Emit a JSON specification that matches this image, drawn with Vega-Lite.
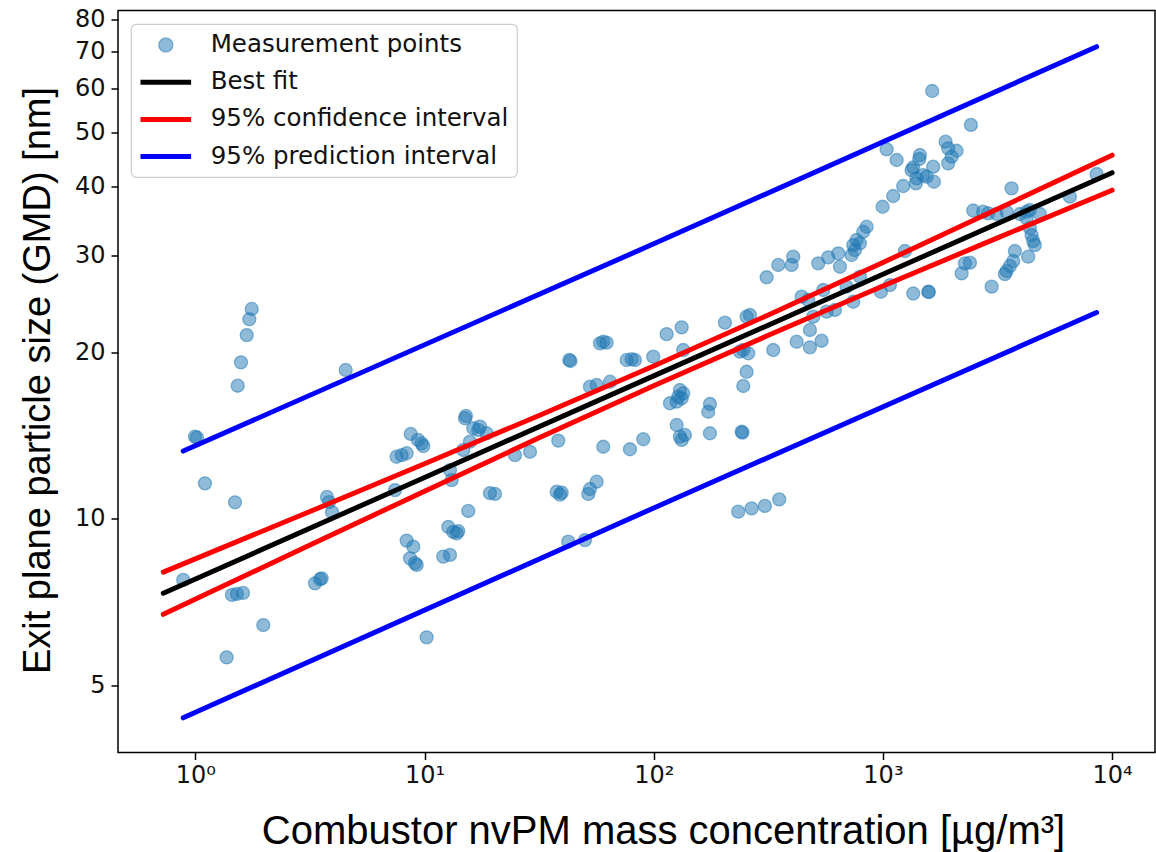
{
  "$schema": "https://vega.github.io/schema/vega-lite/v6.json",
  "autosize": "none",
  "width": 1037,
  "height": 742,
  "padding": {"left": 118, "top": 10.5, "right": 1, "bottom": 99.5},
  "background": "white",
  "config": {
    "view": {"stroke": "black", "strokeWidth": 1.5},
    "axis": {
      "grid": false,
      "domain": false,
      "tickColor": "black",
      "tickWidth": 1.5,
      "tickSize": 7,
      "labelFont": "DejaVu Sans",
      "labelFontSize": 24,
      "labelColor": "#111111",
      "titleFont": "Liberation Sans",
      "titleFontSize": 38,
      "titleFontWeight": "normal",
      "titleColor": "black"
    },
    "legend": {
      "title": null
    }
  },
  "datasets": {
    "points": [
      {"x":0.885,"y":7.76},{"x":0.996,"y":14.09},{"x":1.016,"y":14.04},{"x":1.101,"y":11.6},{"x":1.444,"y":7.29},{"x":1.518,"y":7.32},{"x":1.613,"y":7.35},{"x":1.369,"y":5.62},{"x":1.489,"y":10.72},{"x":1.53,"y":17.42},{"x":1.581,"y":19.2},{"x":1.675,"y":21.51},{"x":1.719,"y":22.97},{"x":1.761,"y":23.98},{"x":1.978,"y":6.43},
      {"x":3.325,"y":7.65},{"x":3.497,"y":7.78},{"x":3.556,"y":7.81},{"x":3.751,"y":10.96},{"x":3.827,"y":10.73},{"x":3.945,"y":10.29},{"x":4.527,"y":18.6},
      {"x":7.43,"y":11.28},{"x":7.55,"y":12.96},{"x":7.95,"y":13.05},{"x":8.35,"y":13.15},{"x":8.7,"y":14.25},{"x":9.36,"y":13.9},{"x":9.71,"y":13.7},{"x":9.87,"y":13.55},
      {"x":8.35,"y":9.14},{"x":8.93,"y":8.91},{"x":8.64,"y":8.49},{"x":9.08,"y":8.32},{"x":9.24,"y":8.26},{"x":10.21,"y":6.11},
      {"x":12.06,"y":8.55},{"x":12.91,"y":8.61},{"x":12.69,"y":9.68},{"x":13.34,"y":9.48},{"x":13.81,"y":9.42},{"x":14.03,"y":9.51},{"x":15.51,"y":10.34},
      {"x":15.01,"y":15.21},{"x":15.16,"y":15.36},{"x":16.31,"y":14.59},{"x":17.15,"y":14.49},{"x":15.78,"y":13.8},{"x":14.75,"y":13.33},{"x":12.91,"y":12.26},{"x":13.13,"y":11.76},
      {"x":19.29,"y":11.14},{"x":20.28,"y":11.1},{"x":17.45,"y":14.69},{"x":18.66,"y":14.29},
      {"x":24.8,"y":13.05},{"x":28.84,"y":13.23},{"x":38.31,"y":13.86},{"x":37.71,"y":11.2},{"x":39.65,"y":11.16},{"x":38.98,"y":11.07},{"x":51.8,"y":11.1},{"x":52.69,"y":11.33},{"x":56.34,"y":11.68},
      {"x":42.36,"y":9.1},{"x":50.11,"y":9.16},{"x":42.79,"y":19.39},{"x":43.31,"y":19.31},{"x":52.69,"y":17.35},{"x":56.34,"y":17.47},{"x":64.43,"y":17.71},
      {"x":60.22,"y":20.92},{"x":58.26,"y":20.78},{"x":62.3,"y":20.84},{"x":60.22,"y":13.51},{"x":76.18,"y":19.39},{"x":80.1,"y":19.45},{"x":82.79,"y":19.39},{"x":78.74,"y":13.37},{"x":90.0,"y":13.94},
      {"x":99.5,"y":19.66},{"x":113.8,"y":21.6},{"x":132.4,"y":22.21},{"x":134.5,"y":20.21},{"x":130.1,"y":17.11},{"x":134.5,"y":16.88},{"x":127.9,"y":16.64},{"x":125.9,"y":16.3},{"x":117.7,"y":16.19},{"x":132.4,"y":16.53},
      {"x":125.9,"y":14.79},{"x":130.1,"y":14.09},{"x":136.8,"y":14.19},{"x":132.4,"y":13.9},{"x":175.9,"y":16.14},{"x":172.9,"y":15.63},{"x":175.9,"y":14.29},{"x":204.5,"y":22.65},
      {"x":241.8,"y":14.38},{"x":243.8,"y":14.33},{"x":233.7,"y":10.31},{"x":267.4,"y":10.45},{"x":305.6,"y":10.56},{"x":352.8,"y":10.85},
      {"x":245.8,"y":20.21},{"x":258.4,"y":19.94},{"x":237.7,"y":20.07},{"x":254.3,"y":18.46},{"x":245.8,"y":17.4},{"x":254.3,"y":23.22},{"x":262.9,"y":23.38},{"x":332.2,"y":20.21},{"x":420.3,"y":20.92},
      {"x":310.9,"y":27.36},{"x":349.3,"y":28.8},{"x":399.6,"y":28.8},{"x":406.1,"y":29.81},
      {"x":522.2,"y":29.0},{"x":577.3,"y":29.73},{"x":638.3,"y":30.23},{"x":649.2,"y":28.59},{"x":730.1,"y":30.02},{"x":754.7,"y":30.65},{"x":742.0,"y":31.29},{"x":793.6,"y":31.52},{"x":767.7,"y":31.96},
      {"x":820.4,"y":33.07},{"x":849.0,"y":33.77},{"x":997.0,"y":36.7},{"x":1109,"y":38.38},{"x":1226,"y":40.01},{"x":1038,"y":46.62},{"x":1148,"y":44.59},
      {"x":1450,"y":45.52},{"x":1440,"y":44.77},{"x":1356,"y":43.25},{"x":1334,"y":42.76},{"x":1403,"y":41.31},{"x":1393,"y":40.46},{"x":1499,"y":41.88},{"x":1658,"y":43.36},{"x":1669,"y":40.73},{"x":1551,"y":41.59},
      {"x":1877,"y":48.12},{"x":1927,"y":46.81},{"x":2097,"y":46.34},{"x":1994,"y":45.19},{"x":1927,"y":43.97},{"x":1641,"y":59.43},{"x":2421,"y":51.6},{"x":3643,"y":39.63},
      {"x":2477,"y":36.13},{"x":2739,"y":35.95},{"x":2880,"y":35.71},{"x":3134,"y":35.61},{"x":3465,"y":35.95},{"x":3960,"y":35.61},{"x":4236,"y":35.95},{"x":4378,"y":36.21},{"x":4842,"y":35.61},
      {"x":4236,"y":34.98},{"x":4378,"y":33.59},{"x":4453,"y":32.62},{"x":4526,"y":31.81},{"x":4604,"y":31.29},{"x":6545,"y":38.27},{"x":8557,"y":42.06},
      {"x":1247,"y":30.52},{"x":3766,"y":30.52},{"x":4305,"y":29.81},{"x":3703,"y":29.28},{"x":3582,"y":28.68},{"x":3465,"y":28.09},{"x":3407,"y":27.73},
      {"x":2280,"y":29.0},{"x":2397,"y":29.08},{"x":2205,"y":27.81},{"x":2981,"y":26.31},{"x":1356,"y":25.57},{"x":1576,"y":25.76},{"x":1587,"y":25.73},{"x":1073,"y":26.49},{"x":980,"y":25.76},
      {"x":742,"y":24.71},{"x":793.6,"y":27.43},{"x":694.4,"y":26.31},{"x":548.9,"y":25.95},{"x":472.2,"y":24.89},{"x":441.9,"y":25.24},{"x":617.6,"y":23.88},{"x":568.0,"y":23.71},{"x":496.5,"y":23.22},
      {"x":480.3,"y":21.97},{"x":480.3,"y":20.44},{"x":540.1,"y":21.01}
    ],
    "lines": [
      {"series":"Best fit","part":"fit","x":0.7244,"y":7.341},{"series":"Best fit","part":"fit","x":10,"y":11.888},{"series":"Best fit","part":"fit","x":100,"y":18.15},{"series":"Best fit","part":"fit","x":1000,"y":27.7},{"series":"Best fit","part":"fit","x":10000,"y":42.29},
      {"series":"95% confidence interval","part":"ci_up","x":0.7244,"y":8.017},{"series":"95% confidence interval","part":"ci_up","x":3.162,"y":10.318},{"series":"95% confidence interval","part":"ci_up","x":10,"y":12.587},{"series":"95% confidence interval","part":"ci_up","x":31.62,"y":15.39},{"series":"95% confidence interval","part":"ci_up","x":100,"y":18.91},{"series":"95% confidence interval","part":"ci_up","x":316.2,"y":23.39},{"series":"95% confidence interval","part":"ci_up","x":1000,"y":29.09},{"series":"95% confidence interval","part":"ci_up","x":3162,"y":36.35},{"series":"95% confidence interval","part":"ci_up","x":10000,"y":45.5},
      {"series":"95% confidence interval","part":"ci_lo","x":0.7244,"y":6.723},{"series":"95% confidence interval","part":"ci_lo","x":3.162,"y":8.974},{"series":"95% confidence interval","part":"ci_lo","x":10,"y":11.226},{"series":"95% confidence interval","part":"ci_lo","x":31.62,"y":14.02},{"series":"95% confidence interval","part":"ci_lo","x":100,"y":17.41},{"series":"95% confidence interval","part":"ci_lo","x":316.2,"y":21.49},{"series":"95% confidence interval","part":"ci_lo","x":1000,"y":26.38},{"series":"95% confidence interval","part":"ci_lo","x":3162,"y":32.24},{"series":"95% confidence interval","part":"ci_lo","x":10000,"y":39.32},
      {"series":"95% prediction interval","part":"pi_up","x":0.885,"y":13.27},{"series":"95% prediction interval","part":"pi_up","x":100,"y":31.45},{"series":"95% prediction interval","part":"pi_up","x":8557,"y":71.47},
      {"series":"95% prediction interval","part":"pi_lo","x":0.885,"y":4.37},{"series":"95% prediction interval","part":"pi_lo","x":100,"y":10.47},{"series":"95% prediction interval","part":"pi_lo","x":8557,"y":23.63}
    ]
  },
  "encoding": {
    "x": {
      "field": "x", "type": "quantitative",
      "scale": {"type": "log", "domain": [0.4595, 15390], "nice": false},
      "axis": {
        "values": [1, 10, 100, 1000, 10000],
        "labelExpr": "datum.value == 1 ? '10⁰' : datum.value == 10 ? '10¹' : datum.value == 100 ? '10²' : datum.value == 1000 ? '10³' : '10⁴'",
        "labelPadding": 4,
        "title": "Combustor nvPM mass concentration [µg/m³]",
        "titleFontSize": 40,
        "titleX": 545, "titleY": 91, "titleAlign": "center", "titleBaseline": "alphabetic"
      }
    },
    "y": {
      "field": "y", "type": "quantitative",
      "scale": {"type": "log", "domain": [3.782, 83.1], "nice": false},
      "axis": {
        "values": [5, 10, 20, 30, 40, 50, 60, 70, 80],
        "format": "d",
        "labelPadding": 6,
        "title": "Exit plane particle size (GMD) [nm]",
        "titleAngle": 270, "titleX": -69, "titleY": 369.5, "titleAlign": "center", "titleBaseline": "alphabetic"
      }
    }
  },
  "layer": [
    {
      "data": {"name": "points"},
      "mark": {"type": "point", "filled": true, "size": 170, "opacity": 1, "fillOpacity": 0.5, "stroke": "#1f77b4", "strokeOpacity": 0.5, "strokeWidth": 1.3},
      "encoding": {
        "color": {
          "datum": "Measurement points", "type": "nominal",
          "scale": {"domain": ["Measurement points", "Best fit", "95% confidence interval", "95% prediction interval"], "range": ["#1f77b4", "black", "red", "blue"]},
          "legend": {
            "title": null, "orient": "none", "legendX": 13, "legendY": 13.5,
            "padding": 8, "rowPadding": 12.2,
            "fillColor": "rgba(255,255,255,0.8)", "strokeColor": "#cccccc", "cornerRadius": 5,
            "labelFont": "DejaVu Sans", "labelFontSize": 24.5, "labelColor": "#111111", "labelLimit": 500,
            "symbolSize": 2560,
            "encode": {
              "legend": {"update": {"strokeWidth": {"value": 1.2}}},
              "symbols": {"update": {
                "shape": {"signal": "datum.value === 'Measurement points' ? 'circle' : 'stroke'"},
                "size": {"signal": "datum.value === 'Measurement points' ? 200 : 2560"},
                "fill": {"signal": "datum.value === 'Measurement points' ? '#1f77b4' : 'transparent'"},
                "fillOpacity": {"value": 0.5},
                "stroke": {"signal": "datum.value === 'Measurement points' ? '#1f77b4' : datum.value === 'Best fit' ? 'black' : datum.value === '95% confidence interval' ? 'red' : 'blue'"},
                "strokeOpacity": {"signal": "datum.value === 'Measurement points' ? 0.5 : 1"},
                "strokeWidth": {"signal": "datum.value === 'Measurement points' ? 1.3 : 5"},
                "opacity": {"value": 1},
                "x": {"value": 26.8},
                "y": {"value": 13}
              }},
              "labels": {"update": {"x": {"value": 71.7}, "y": {"value": 13}}}
            }
          }
        }
      }
    },
    {
      "data": {"name": "lines"},
      "mark": {"type": "line", "strokeWidth": 5, "strokeCap": "round"},
      "encoding": {
        "color": {
          "field": "series", "type": "nominal",
          "legend": {
            "title": null, "orient": "none", "legendX": 13, "legendY": 13.5,
            "padding": 8, "rowPadding": 12.2,
            "fillColor": "rgba(255,255,255,0.8)", "strokeColor": "#cccccc", "cornerRadius": 5,
            "labelFont": "DejaVu Sans", "labelFontSize": 24.5, "labelColor": "#111111", "labelLimit": 500,
            "symbolSize": 2560,
            "encode": {
              "legend": {"update": {"strokeWidth": {"value": 1.2}}},
              "symbols": {"update": {
                "shape": {"signal": "datum.value === 'Measurement points' ? 'circle' : 'stroke'"},
                "size": {"signal": "datum.value === 'Measurement points' ? 200 : 2560"},
                "fill": {"signal": "datum.value === 'Measurement points' ? '#1f77b4' : 'transparent'"},
                "fillOpacity": {"value": 0.5},
                "stroke": {"signal": "datum.value === 'Measurement points' ? '#1f77b4' : datum.value === 'Best fit' ? 'black' : datum.value === '95% confidence interval' ? 'red' : 'blue'"},
                "strokeOpacity": {"signal": "datum.value === 'Measurement points' ? 0.5 : 1"},
                "strokeWidth": {"signal": "datum.value === 'Measurement points' ? 1.3 : 5"},
                "opacity": {"value": 1},
                "x": {"value": 26.8},
                "y": {"value": 13}
              }},
              "labels": {"update": {"x": {"value": 71.7}, "y": {"value": 13}}}
            }
          }
        },
        "detail": {"field": "part", "type": "nominal"}
      }
    }
  ]
}
